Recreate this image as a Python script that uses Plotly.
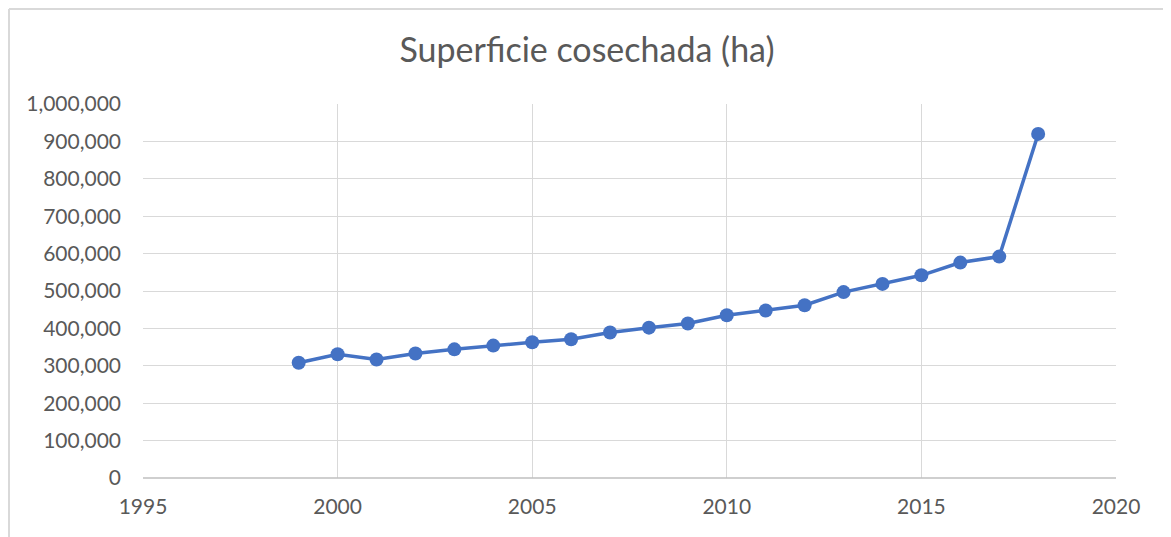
import plotly.graph_objects as go

years = [1999, 2000, 2001, 2002, 2003, 2004, 2005, 2006, 2007, 2008,
         2009, 2010, 2011, 2012, 2013, 2014, 2015, 2016, 2017, 2018]
area_ha = [308000, 331000, 317000, 333000, 344000, 354000, 363000, 371000, 389000, 402000,
           413000, 435000, 448000, 462000, 497000, 519000, 542000, 576000, 592000, 920000]

title_text = "Superficie cosechada (ha)"
font_family = "Lato, Open Sans, sans-serif"
text_color = "#595959"

fig = go.Figure()
fig.add_trace(go.Scatter(
    x=years, y=area_ha, mode="lines+markers",
    line=dict(color="#4472C4", width=3.5),
    marker=dict(color="#4472C4", size=14),
    showlegend=False,
))

# page body has an 8px margin; place everything relative to that
OFF = 8
W, H = 1171 - OFF, 537 - OFF
L = 143 - OFF
T = 104 - OFF
R = W - (1116 - OFF)
B = H - (478 - OFF)
pw, ph = W - L - R, H - T - B

# outer chart border, in figure pixels
bx0, bx1, by1 = 1.0, 1168 - OFF, 1.0
plot_bottom = H - B

fig.update_layout(
    width=W, height=H,
    margin=dict(l=L, r=R, t=T, b=B),
    paper_bgcolor="white", plot_bgcolor="white",
    title=dict(text=title_text, x=(587 - OFF) / W, xanchor="center",
               y=1 - (50 - OFF) / H, yanchor="middle",
               font=dict(family=font_family, size=34, color=text_color)),
    font=dict(family=font_family, size=21, color=text_color),
    xaxis=dict(range=[1995, 2020], dtick=5, tick0=1995, showgrid=True, gridcolor="#d9d9d9",
               gridwidth=1, zeroline=False, showline=False, ticks="", ticklabelstandoff=14,
               tickfont=dict(size=21, color=text_color)),
    yaxis=dict(range=[0, 1000000], dtick=100000, tickformat=",", showgrid=True,
               gridcolor="#d9d9d9", gridwidth=1, zeroline=False, showline=False, ticks="",
               ticklabelstandoff=21, tickfont=dict(size=21, color=text_color)),
    shapes=[
        dict(type="line", xref="paper", yref="paper", x0=0, x1=1, y0=0, y1=0,
             line=dict(color="#bfbfbf", width=1.5)),
        dict(type="line", xref="paper", yref="paper",
             x0=(bx0 - L) / pw, x1=(bx1 - L) / pw,
             y0=(plot_bottom - by1) / ph, y1=(plot_bottom - by1) / ph,
             line=dict(color="#d9d9d9", width=2)),
        dict(type="line", xref="paper", yref="paper",
             x0=(bx0 - L) / pw, x1=(bx0 - L) / pw,
             y0=(plot_bottom - H) / ph, y1=(plot_bottom - by1) / ph,
             line=dict(color="#d9d9d9", width=2)),
        dict(type="line", xref="paper", yref="paper",
             x0=(bx1 - L) / pw, x1=(bx1 - L) / pw,
             y0=(plot_bottom - H) / ph, y1=(plot_bottom - by1) / ph,
             line=dict(color="#d9d9d9", width=2)),
    ],
)

fig.write_html("out.html")
